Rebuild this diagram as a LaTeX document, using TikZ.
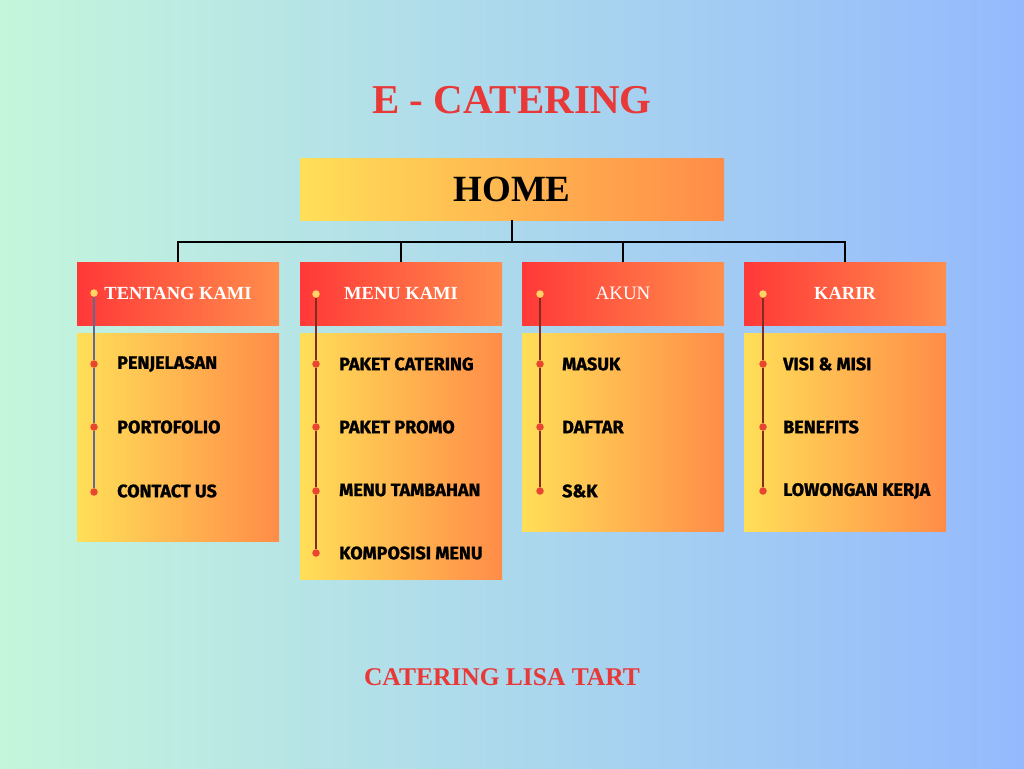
\documentclass[tikz,border=0pt]{standalone}
\usepackage{fontspec}
\setmainfont{Liberation Serif}
\newfontfamily\itemfont[BoldFeatures={FakeBold=1.2}]{Fira Sans}
\definecolor{bgL}{RGB}{196,246,220}
\definecolor{bgR}{RGB}{148,186,253}
\definecolor{titred}{RGB}{232,56,56}
\definecolor{yel}{RGB}{255,223,88}
\definecolor{orn}{RGB}{255,140,72}
\definecolor{hred}{RGB}{255,56,56}
\definecolor{horn}{RGB}{255,142,76}
\definecolor{hdotc}{RGB}{255,212,100}
\definecolor{idotc}{RGB}{232,70,48}
\definecolor{lineA}{RGB}{96,104,150}
\definecolor{lineB}{RGB}{128,44,32}
\begin{document}
\begin{tikzpicture}[x=1pt,y=-1pt,
  homebox/.style={left color=yel,right color=orn,minimum width=424pt,minimum height=62pt,inner sep=0pt,
    font=\fontsize{37}{40}\selectfont\bfseries,text=black},
  hdrbox/.style={left color=hred,right color=horn,minimum width=202pt,minimum height=63pt,inner sep=0pt,
    font=\fontsize{18.5}{20}\selectfont\bfseries,text=white},
  bodybox/.style={left color=yel,right color=orn,minimum width=202pt,inner sep=0pt},
  hdot/.style={circle,fill=hdotc,minimum size=7.5pt,inner sep=0pt},
  idot/.style={circle,fill=idotc,minimum size=7.5pt,inner sep=0pt},
  itemlbl/.style={anchor=west,inner sep=0pt,font=\itemfont\fontsize{18}{20}\selectfont\bfseries,text=black},
  conn/.style={draw=black,line width=2pt},
  tline/.style={line width=1.6pt}]
\useasboundingbox (0,0) rectangle (1024,768);
\shade[left color=bgL,right color=bgR] (0,0) rectangle (1024,768);

\node[text=titred,font=\fontsize{41}{44}\selectfont\bfseries] (title) at (512,100) {E - CATERING};
\node[homebox] (home) at (512,189) {HOME};

\node[hdrbox] (h1) at (178,293.5) {TENTANG KAMI};
\node[hdrbox] (h2) at (401,293.5) {MENU KAMI};
\node[hdrbox,font=\fontsize{19}{20}\selectfont] (h3) at (623,293.5) {AKUN};
\node[hdrbox] (h4) at (845,293.5) {KARIR};

\node[bodybox,minimum height=208pt] (b1) at (178,437) {};
\node[bodybox,minimum height=246pt] (b2) at (401,456) {};
\node[bodybox,minimum height=198pt] (b3) at (623,432) {};
\node[bodybox,minimum height=198pt] (b4) at (845,432) {};

\coordinate (j) at (512,242);
\draw[conn] (home.south) -- (j);
\draw[conn] (h1.north) |- (j) -| (h4.north);
\draw[conn] (h2.north) |- (j);
\draw[conn] (h3.north) |- (j);

% column 1
\node[hdot] (d1) at (94,293) {};
\node[idot] (d1a) at (94,364) {};
\node[idot] (d1b) at (94,427) {};
\node[idot] (d1c) at (94,492) {};
\draw[tline,lineA] (d1) -- (d1a); \draw[tline,lineA] (d1a) -- (d1b); \draw[tline,lineA] (d1b) -- (d1c);
\node[itemlbl] (t1a) at (117,364) {PENJELASAN};
\node[itemlbl] (t1b) at (117,427) {PORTOFOLIO};
\node[itemlbl] (t1c) at (117,491) {CONTACT US};

% column 2
\node[hdot] (d2) at (316,294) {};
\node[idot] (d2a) at (316,364) {};
\node[idot] (d2b) at (316,427) {};
\node[idot] (d2c) at (316,491) {};
\node[idot] (d2d) at (316,553) {};
\draw[tline,lineB] (d2) -- (d2a); \draw[tline,lineB] (d2a) -- (d2b); \draw[tline,lineB] (d2b) -- (d2c); \draw[tline,lineB] (d2c) -- (d2d);
\node[itemlbl] (t2a) at (339,364) {PAKET CATERING};
\node[itemlbl] (t2b) at (339,427) {PAKET PROMO};
\node[itemlbl] (t2c) at (339,490) {MENU TAMBAHAN};
\node[itemlbl] (t2d) at (339,553) {KOMPOSISI MENU};

% column 3
\node[hdot] (d3) at (540,294) {};
\node[idot] (d3a) at (540,364) {};
\node[idot] (d3b) at (540,427) {};
\node[idot] (d3c) at (540,491) {};
\draw[tline,lineB] (d3) -- (d3a); \draw[tline,lineB] (d3a) -- (d3b); \draw[tline,lineB] (d3b) -- (d3c);
\node[itemlbl] (t3a) at (562,364) {MASUK};
\node[itemlbl] (t3b) at (562,427) {DAFTAR};
\node[itemlbl] (t3c) at (562,491) {S\&K};

% column 4
\node[hdot] (d4) at (763,294) {};
\node[idot] (d4a) at (763,364) {};
\node[idot] (d4b) at (763,427) {};
\node[idot] (d4c) at (763,491) {};
\draw[tline,lineB] (d4) -- (d4a); \draw[tline,lineB] (d4a) -- (d4b); \draw[tline,lineB] (d4b) -- (d4c);
\node[itemlbl] (t4a) at (783,364) {VISI \& MISI};
\node[itemlbl] (t4b) at (783,427) {BENEFITS};
\node[itemlbl] (t4c) at (783,491) {LOWONGAN KERJA};

\node[text=titred,font=\fontsize{25.5}{28}\selectfont\bfseries] (foot) at (502,677) {CATERING LISA TART};
\end{tikzpicture}
\end{document}
